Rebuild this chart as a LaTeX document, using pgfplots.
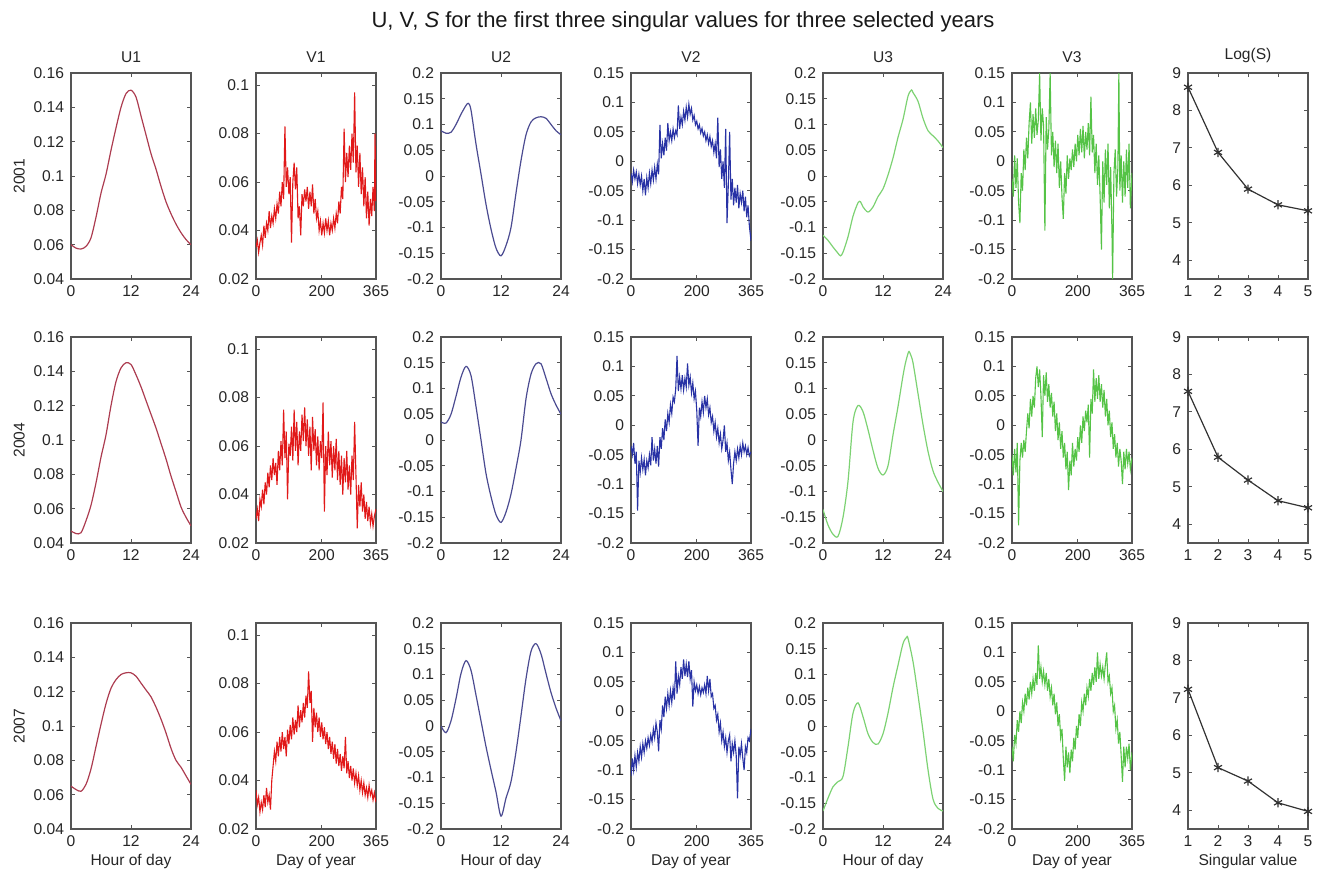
\documentclass[border=0pt]{standalone}
\usepackage{fontspec}
\setmainfont{Liberation Sans}
\usepackage{pgfplots}
\pgfplotsset{compat=1.18}
\definecolor{axgray}{RGB}{85,85,85}
\definecolor{cUa}{RGB}{172,60,80}
\definecolor{cVa}{RGB}{225,25,25}
\definecolor{cUb}{RGB}{75,75,145}
\definecolor{cVb}{RGB}{40,50,165}
\definecolor{cUc}{RGB}{125,210,115}
\definecolor{cVc}{RGB}{85,195,70}
\definecolor{cS}{RGB}{50,50,50}
\pgfplotsset{
 base/.style={width=60pt,height=103pt,scale only axis,anchor=north west,
  axis line style={draw=axgray,line width=0.65pt},
  every tick/.style={draw=axgray,line width=0.5pt},
  major tick length=2.2pt, tick align=inside,
  ticklabel style={font=\fontsize{7.8}{9}\selectfont, text=black!85},
  label style={font=\fontsize{7.8}{9}\selectfont, text=black!85},
  ylabel style={yshift=-2.5pt},
  xlabel style={yshift=3.5pt},
  title style={font=\fontsize{7.8}{9}\selectfont, text=black!85, yshift=-4.5pt},
 },
 uax/.style={base, xmin=0,xmax=24,xtick={0,12,24},xticklabels={0,12,24}},
 vax/.style={base, xmin=0,xmax=365,xtick={0,200,365},xticklabels={0,200,365}},
 sax/.style={base, xmin=1,xmax=5,xtick={1,2,3,4,5},xticklabels={1,2,3,4,5},
  ymin=3.5,ymax=9,ytick={4,5,6,7,8,9},yticklabels={4,5,6,7,8,9},clip=false},
 ya/.style={ymin=0.04,ymax=0.16,ytick={0.04,0.06,0.08,0.1,0.12,0.14,0.16},yticklabels={0.04,0.06,0.08,0.1,0.12,0.14,0.16}},
 yb/.style={ymin=0.02,ymax=0.105,ytick={0.02,0.04,0.06,0.08,0.1},yticklabels={0.02,0.04,0.06,0.08,0.1}},
 yc/.style={ymin=-0.2,ymax=0.2,ytick={-0.2,-0.15,-0.1,-0.05,0,0.05,0.1,0.15,0.2},yticklabels={-0.2,-0.15,-0.1,-0.05,0,0.05,0.1,0.15,0.2}},
 yd/.style={ymin=-0.2,ymax=0.15,ytick={-0.2,-0.15,-0.1,-0.05,0,0.05,0.1,0.15},yticklabels={-0.2,-0.15,-0.1,-0.05,0,0.05,0.1,0.15}},
 lU/.style={line width=0.6pt,smooth,tension=0.5,no marks},
 lV/.style={line width=0.55pt,no marks},
 lS/.style={color=cS,line width=0.6pt,mark=asterisk,mark size=2.3pt,mark options={line width=0.6pt}},
}
\begin{document}
\begin{tikzpicture}
\path[use as bounding box] (0,0) rectangle (662.5pt,-436.5pt);
\node[font=\fontsize{11}{13}\selectfont, text=black!90] at (341.5pt,-11pt) {U, V, \textit{S} for the first three singular values for three selected years};

%%%%%%%%%%%%%%%% ROW 1 : 2001
\begin{axis}[uax,ya,at={(35.5pt,-36.5pt)},title={U1},ylabel={2001}]
\addplot[lU,cUa] coordinates {(0,.060)(1,.058)(2,.0575)(3,.059)(4,.064)(5,.076)(6,.090)(7,.101)(8,.115)(9,.128)(10,.140)(11,.148)(12,.150)(13,.146)(14,.135)(15,.124)(16,.113)(17,.104)(18,.094)(19,.085)(20,.078)(21,.072)(22,.067)(23,.063)(24,.060)};
\end{axis}
\begin{axis}[vax,yb,at={(128pt,-36.5pt)},title={V1}]
\addplot[lV,cVa] coordinates {(0,.033)(4,.036)(8,.031)(12,.035)(16,.038)(20,.034)(24,.042)(28,.037)(32,.043)(36,.040)(40,.048)(44,.041)(48,.046)(52,.043)(56,.049)(60,.045)(64,.051)(68,.047)(72,.056)(76,.050)(80,.060)(84,.053)(88,.083)(92,.058)(96,.066)(100,.055)(104,.062)(108,.035)(112,.060)(116,.068)(120,.057)(124,.066)(128,.045)(132,.050)(136,.038)(140,.055)(144,.050)(148,.057)(152,.052)(156,.058)(160,.049)(164,.056)(168,.050)(172,.059)(176,.047)(180,.053)(184,.045)(188,.048)(192,.040)(196,.044)(200,.038)(204,.043)(208,.039)(212,.045)(216,.040)(220,.044)(224,.038)(228,.043)(232,.040)(236,.045)(240,.041)(244,.047)(248,.043)(252,.052)(256,.047)(260,.058)(264,.053)(268,.082)(272,.060)(276,.072)(280,.062)(284,.075)(288,.065)(292,.080)(296,.068)(300,.097)(304,.064)(308,.075)(312,.058)(316,.072)(320,.055)(324,.066)(328,.050)(332,.062)(336,.045)(340,.056)(344,.042)(348,.053)(352,.046)(356,.058)(360,.048)(362,.080)(365,.052)};
\end{axis}
\begin{axis}[uax,yc,at={(220.5pt,-36.5pt)},title={U2}]
\addplot[lU,cUb] coordinates {(0,.088)(1,.083)(2,.085)(3,.100)(4,.120)(5,.137)(5.5,.141)(6,.128)(7,.062)(8,.004)(9,-.055)(10,-.103)(11,-.140)(12,-.155)(13,-.135)(14,-.100)(15,-.033)(16,.030)(17,.080)(18,.105)(19,.113)(20,.115)(21,.112)(22,.100)(23,.088)(24,.080)};
\end{axis}
\begin{axis}[vax,yd,at={(315.5pt,-36.5pt)},title={V2}]
\addplot[lV,cVb] coordinates {(0,-.020)(4,-.035)(8,-.015)(12,-.030)(16,-.018)(20,-.038)(24,-.022)(28,-.040)(32,-.025)(36,-.050)(40,-.030)(44,-.058)(48,-.028)(52,-.045)(56,-.020)(60,-.038)(64,-.015)(68,-.032)(72,-.010)(76,-.030)(80,-.005)(84,-.022)(88,.062)(92,.005)(96,.030)(100,.010)(104,.040)(108,.018)(112,.065)(116,.035)(120,.050)(124,.035)(128,.055)(132,.040)(136,.052)(140,.045)(144,.095)(148,.055)(152,.075)(156,.062)(160,.085)(164,.070)(168,.092)(172,.075)(176,.097)(180,.080)(184,.090)(188,.070)(192,.078)(196,.062)(200,.068)(204,.055)(208,.062)(212,.048)(216,.056)(220,.043)(224,.050)(228,.035)(232,.045)(236,.030)(240,.042)(244,.025)(248,.035)(252,.015)(256,.030)(260,.005)(264,.074)(268,-.010)(272,.020)(276,-.030)(280,.000)(284,-.045)(288,.055)(292,-.105)(296,-.040)(300,.050)(304,-.065)(308,-.030)(312,-.075)(316,-.045)(320,-.070)(324,-.040)(328,-.080)(332,-.055)(336,-.070)(340,-.050)(344,-.085)(348,-.060)(352,-.095)(356,-.075)(360,-.110)(365,-.135)};
\end{axis}
\begin{axis}[uax,yc,at={(411.5pt,-36.5pt)},title={U3}]
\addplot[lU,cUc] coordinates {(0,-.115)(1,-.125)(2,-.138)(3,-.150)(3.5,-.155)(4,-.148)(5,-.118)(6,-.078)(7,-.052)(7.5,-.050)(8,-.060)(9,-.070)(10,-.060)(11,-.040)(12,-.025)(13,.002)(14,.035)(15,.075)(16,.110)(17,.155)(17.7,.167)(18,.162)(19,.145)(20,.112)(21,.088)(22,.078)(23,.068)(24,.055)};
\end{axis}
\begin{axis}[vax,yd,at={(506pt,-36.5pt)},title={V3}]
\addplot[lV,cVc] coordinates {(0,-.030)(4,-.060)(8,.010)(12,-.045)(16,.005)(20,-.070)(24,-.105)(28,-.020)(32,-.050)(36,.020)(40,-.015)(44,.040)(48,.005)(52,.065)(56,.100)(60,.030)(64,.080)(68,.040)(72,.090)(76,.045)(80,.070)(84,.150)(88,.035)(92,.090)(96,.060)(100,-.118)(104,.075)(108,.020)(112,.055)(116,.150)(120,.010)(124,.050)(128,-.010)(132,.035)(136,-.020)(140,.030)(144,-.045)(148,.000)(152,-.060)(156,-.098)(160,-.020)(164,-.055)(168,.010)(172,-.030)(176,.005)(180,-.015)(184,.020)(188,-.010)(192,.030)(196,.000)(200,.045)(204,.010)(208,.055)(212,.015)(216,.060)(220,.005)(224,.050)(228,.020)(232,.065)(236,.010)(240,.110)(244,.015)(248,.045)(252,-.020)(256,.030)(260,-.040)(264,.010)(268,-.060)(272,-.150)(276,.000)(280,-.070)(284,.020)(288,-.040)(292,.030)(296,-.080)(300,-.010)(304,-.120)(306,-.200)(310,-.020)(314,.020)(318,-.060)(322,-.010)(325,.150)(328,-.050)(332,.010)(336,-.070)(340,.000)(344,-.060)(348,.020)(352,-.045)(356,.030)(360,-.080)(365,-.020)};
\end{axis}
\begin{axis}[sax,at={(594pt,-36.5pt)},title={Log(S)}]
\addplot[lS] coordinates {(1,8.62)(2,6.88)(3,5.90)(4,5.48)(5,5.32)};
\end{axis}

%%%%%%%%%%%%%%%% ROW 2 : 2004
\begin{axis}[uax,ya,at={(35.5pt,-168.5pt)},ylabel={2004}]
\addplot[lU,cUa] coordinates {(0,.047)(1,.0455)(2,.046)(3,.053)(4,.062)(5,.075)(6,.090)(7,.103)(8,.120)(9,.134)(10,.142)(11,.145)(12,.144)(13,.138)(14,.131)(15,.123)(16,.115)(17,.107)(18,.098)(19,.089)(20,.079)(21,.070)(22,.061)(23,.055)(24,.050)};
\end{axis}
\begin{axis}[vax,yb,at={(128pt,-168.5pt)}]
\addplot[lV,cVa] coordinates {(0,.030)(4,.034)(8,.029)(12,.038)(16,.035)(20,.042)(24,.036)(28,.045)(32,.040)(36,.049)(40,.043)(44,.052)(48,.046)(52,.055)(56,.048)(60,.053)(64,.044)(68,.058)(72,.050)(76,.062)(80,.052)(84,.075)(88,.055)(92,.066)(96,.038)(100,.061)(104,.056)(108,.068)(112,.054)(116,.075)(120,.058)(124,.070)(128,.052)(132,.066)(136,.058)(140,.073)(144,.062)(148,.076)(152,.060)(156,.071)(160,.056)(164,.068)(168,.050)(172,.072)(176,.058)(180,.067)(184,.052)(188,.064)(192,.050)(196,.062)(200,.055)(204,.078)(208,.033)(212,.060)(216,.048)(220,.066)(224,.052)(228,.062)(232,.047)(236,.060)(240,.050)(244,.063)(248,.046)(252,.058)(256,.044)(260,.056)(264,.040)(268,.055)(272,.045)(276,.058)(280,.042)(284,.052)(288,.040)(292,.056)(296,.046)(300,.070)(304,.048)(308,.026)(312,.044)(316,.035)(320,.045)(324,.033)(328,.040)(332,.030)(336,.037)(340,.029)(344,.035)(348,.028)(352,.032)(356,.027)(360,.031)(365,.034)};
\end{axis}
\begin{axis}[uax,yc,at={(220.5pt,-168.5pt)}]
\addplot[lU,cUb] coordinates {(0,.035)(1,.033)(2,.050)(3,.085)(4,.122)(5,.143)(6,.125)(7,.065)(8,.000)(9,-.065)(10,-.110)(11,-.145)(12,-.160)(13,-.140)(14,-.105)(15,-.055)(16,.000)(17,.080)(18,.128)(19,.148)(20,.148)(21,.120)(22,.090)(23,.068)(24,.050)};
\end{axis}
\begin{axis}[vax,yd,at={(315.5pt,-168.5pt)}]
\addplot[lV,cVb] coordinates {(0,-.035)(4,-.050)(8,-.030)(12,-.065)(16,-.045)(20,-.145)(24,-.060)(28,-.080)(32,-.055)(36,-.075)(40,-.058)(44,-.085)(48,-.060)(52,-.072)(56,-.050)(60,-.068)(64,-.020)(68,-.060)(72,-.040)(76,-.065)(80,-.035)(84,-.070)(88,-.020)(92,-.040)(96,-.005)(100,-.025)(104,.010)(108,-.010)(112,.020)(116,.005)(120,.035)(124,.020)(128,.048)(132,.040)(136,.062)(140,.118)(144,.058)(148,.082)(152,.062)(156,.085)(160,.060)(164,.080)(168,.065)(172,.105)(176,.068)(180,.082)(184,.055)(188,.072)(192,.045)(196,.058)(200,.025)(204,-.035)(208,.030)(212,.015)(216,.040)(220,.022)(224,.050)(228,.030)(232,.045)(236,.018)(240,.030)(244,.005)(248,.015)(252,-.010)(256,.005)(260,-.020)(264,-.005)(268,-.030)(272,-.015)(276,-.040)(280,-.025)(284,.000)(288,-.045)(292,-.030)(296,-.060)(300,-.045)(304,-.075)(308,-.100)(312,-.065)(316,-.045)(320,-.060)(324,-.040)(328,-.055)(332,-.035)(336,-.050)(340,-.030)(344,-.045)(348,-.035)(352,-.050)(356,-.038)(360,-.052)(365,-.045)};
\end{axis}
\begin{axis}[uax,yc,at={(411.5pt,-168.5pt)}]
\addplot[lU,cUc] coordinates {(0,-.135)(1,-.165)(2,-.183)(3,-.187)(4,-.150)(5,-.080)(6,.035)(7,.067)(8,.055)(9,.020)(10,-.020)(11,-.055)(12,-.068)(13,-.050)(14,.010)(15,.065)(16,.125)(16.5,.150)(17,.168)(17.2,.172)(17.5,.166)(18,.150)(19,.090)(20,.030)(21,-.022)(22,-.060)(23,-.082)(24,-.100)};
\end{axis}
\begin{axis}[vax,yd,at={(506pt,-168.5pt)}]
\addplot[lV,cVc] coordinates {(0,-.050)(4,-.085)(8,-.040)(12,-.080)(16,-.030)(20,-.170)(24,-.060)(28,-.030)(32,-.055)(36,-.025)(40,-.045)(44,-.010)(48,.020)(52,-.005)(56,.045)(60,.015)(64,.050)(68,.030)(72,.080)(76,.100)(80,.065)(84,.095)(88,.050)(92,-.020)(96,.085)(100,.050)(104,.090)(108,.040)(112,.070)(116,.030)(120,.055)(124,.015)(128,.040)(132,-.010)(136,.020)(140,-.025)(144,.005)(148,-.040)(152,-.010)(156,-.055)(160,-.030)(164,-.075)(168,-.045)(172,-.110)(176,-.060)(180,-.085)(184,-.030)(188,-.070)(192,-.040)(196,-.060)(200,-.020)(204,-.045)(208,.000)(212,-.030)(216,.015)(220,-.010)(224,.025)(228,.005)(232,.035)(236,-.055)(240,.045)(244,.020)(248,.095)(252,.040)(256,.080)(260,.045)(264,.085)(268,.040)(272,.070)(276,.030)(280,.060)(284,.015)(288,.045)(292,.000)(296,.025)(300,-.020)(304,.005)(308,-.040)(312,-.015)(316,-.055)(320,-.030)(324,-.070)(328,-.040)(332,-.060)(336,-.100)(340,-.045)(344,-.075)(348,-.040)(352,-.065)(356,-.045)(360,-.075)(365,-.055)};
\end{axis}
\begin{axis}[sax,at={(594pt,-168.5pt)}]
\addplot[lS] coordinates {(1,7.55)(2,5.79)(3,5.18)(4,4.63)(5,4.44)};
\end{axis}

%%%%%%%%%%%%%%%% ROW 3 : 2007
\begin{axis}[uax,ya,at={(35.5pt,-311.5pt)},ylabel={2007},xlabel={Hour of day}]
\addplot[lU,cUa] coordinates {(0,.065)(1,.063)(2,.062)(3,.066)(4,.075)(5,.088)(6,.101)(7,.113)(8,.122)(9,.127)(10,.130)(11,.131)(12,.131)(13,.129)(14,.125)(15,.121)(16,.117)(17,.111)(18,.104)(19,.096)(20,.087)(21,.080)(22,.076)(23,.071)(24,.066)};
\end{axis}
\begin{axis}[vax,yb,at={(128pt,-311.5pt)},xlabel={Day of year}]
\addplot[lV,cVa] coordinates {(0,.036)(4,.030)(8,.033)(12,.027)(16,.031)(20,.028)(24,.034)(28,.029)(32,.037)(36,.031)(40,.034)(44,.028)(48,.040)(52,.046)(56,.052)(60,.048)(64,.056)(68,.050)(72,.058)(76,.052)(80,.060)(84,.053)(88,.058)(92,.050)(96,.061)(100,.055)(104,.063)(108,.057)(112,.066)(116,.059)(120,.065)(124,.060)(128,.071)(132,.062)(136,.069)(140,.064)(144,.072)(148,.066)(152,.075)(156,.070)(160,.085)(164,.072)(168,.077)(172,.056)(176,.070)(180,.062)(184,.068)(188,.060)(192,.066)(196,.058)(200,.064)(204,.057)(208,.062)(212,.055)(216,.060)(220,.053)(224,.058)(228,.051)(232,.056)(236,.049)(240,.055)(244,.047)(248,.053)(252,.046)(256,.051)(260,.044)(264,.050)(268,.045)(272,.058)(276,.043)(280,.048)(284,.041)(288,.046)(292,.040)(296,.045)(300,.039)(304,.043)(308,.038)(312,.042)(316,.036)(320,.040)(324,.035)(328,.039)(332,.034)(336,.037)(340,.033)(344,.038)(348,.034)(352,.036)(356,.032)(360,.035)(365,.031)};
\end{axis}
\begin{axis}[uax,yc,at={(220.5pt,-311.5pt)},xlabel={Hour of day}]
\addplot[lU,cUb] coordinates {(0,.000)(1,-.013)(2,.010)(3,.053)(4,.102)(5,.127)(6,.108)(7,.060)(8,.010)(9,-.040)(10,-.085)(11,-.128)(12,-.175)(13,-.140)(14,-.108)(15,-.050)(16,.020)(17,.092)(18,.145)(19,.160)(20,.140)(21,.102)(22,.065)(23,.035)(24,.010)};
\end{axis}
\begin{axis}[vax,yd,at={(315.5pt,-311.5pt)},xlabel={Day of year}]
\addplot[lV,cVb] coordinates {(0,-.110)(4,-.080)(8,-.100)(12,-.075)(16,-.095)(20,-.070)(24,-.085)(28,-.060)(32,-.078)(36,-.055)(40,-.070)(44,-.050)(48,-.063)(52,-.045)(56,-.058)(60,-.040)(64,-.052)(68,-.030)(72,-.045)(76,-.020)(80,-.035)(84,-.068)(88,-.015)(92,-.030)(96,.010)(100,-.010)(104,.025)(108,.005)(112,.030)(116,.010)(120,.035)(124,.015)(128,.040)(132,.020)(136,.085)(140,.030)(144,.060)(148,.045)(152,.075)(156,.055)(160,.088)(164,.060)(168,.080)(172,.058)(176,.085)(180,.055)(184,.070)(188,.008)(192,.050)(196,.035)(200,.045)(204,.030)(208,.042)(212,.028)(216,.040)(220,.032)(224,.045)(228,.030)(232,.060)(236,.035)(240,.055)(244,.025)(248,.030)(252,.005)(256,.010)(260,-.015)(264,-.005)(268,-.035)(272,-.020)(276,-.050)(280,-.035)(284,-.060)(288,-.045)(292,-.070)(296,-.050)(300,-.040)(304,-.085)(308,-.055)(312,-.070)(316,-.050)(320,-.075)(324,-.148)(328,-.060)(332,-.075)(336,-.055)(340,-.080)(344,-.100)(348,-.060)(352,-.070)(356,-.045)(360,-.050)(365,-.030)};
\end{axis}
\begin{axis}[uax,yc,at={(411.5pt,-311.5pt)},xlabel={Hour of day}]
\addplot[lU,cUc] coordinates {(0,-.165)(1,-.140)(2,-.118)(3,-.108)(4,-.098)(5,-.040)(6,.025)(7,.045)(8,.018)(9,-.015)(10,-.032)(11,-.035)(12,-.015)(13,.025)(14,.075)(15,.118)(16,.160)(16.7,.172)(17,.170)(18,.125)(19,.060)(20,-.010)(21,-.085)(22,-.142)(23,-.160)(24,-.165)};
\end{axis}
\begin{axis}[vax,yd,at={(506pt,-311.5pt)},xlabel={Day of year}]
\addplot[lV,cVc] coordinates {(0,-.060)(4,-.085)(8,-.040)(12,-.055)(16,-.015)(20,-.035)(24,.000)(28,-.020)(32,.015)(36,.000)(40,.030)(44,.010)(48,.040)(52,.020)(56,.050)(60,.030)(64,.055)(68,.035)(72,.065)(76,.045)(80,.112)(84,.055)(88,.075)(92,.050)(96,.068)(100,.045)(104,.065)(108,.035)(112,.055)(116,.025)(120,.040)(124,.010)(128,.030)(132,-.005)(136,.015)(140,-.025)(144,-.005)(148,-.045)(152,-.030)(156,-.080)(160,-.118)(164,-.060)(168,-.095)(172,-.070)(176,-.105)(180,-.065)(184,-.085)(188,-.045)(192,-.065)(196,-.025)(200,-.045)(204,-.005)(208,-.025)(212,.015)(216,.000)(220,.030)(224,.010)(228,.040)(232,.025)(236,.055)(240,.035)(244,.065)(248,.045)(252,.075)(256,.050)(260,.100)(264,.055)(268,.080)(272,.060)(276,.075)(280,.055)(284,.080)(288,.100)(292,.050)(296,.060)(300,.030)(304,.040)(308,.000)(312,.010)(316,-.030)(320,-.015)(324,-.055)(328,-.035)(332,-.075)(336,-.120)(340,-.060)(344,-.095)(348,-.060)(352,-.080)(356,-.055)(360,-.100)(365,-.070)};
\end{axis}
\begin{axis}[sax,at={(594pt,-311.5pt)},xlabel={Singular value}]
\addplot[lS] coordinates {(1,7.23)(2,5.14)(3,4.78)(4,4.20)(5,3.97)};
\end{axis}
\end{tikzpicture}
\end{document}
